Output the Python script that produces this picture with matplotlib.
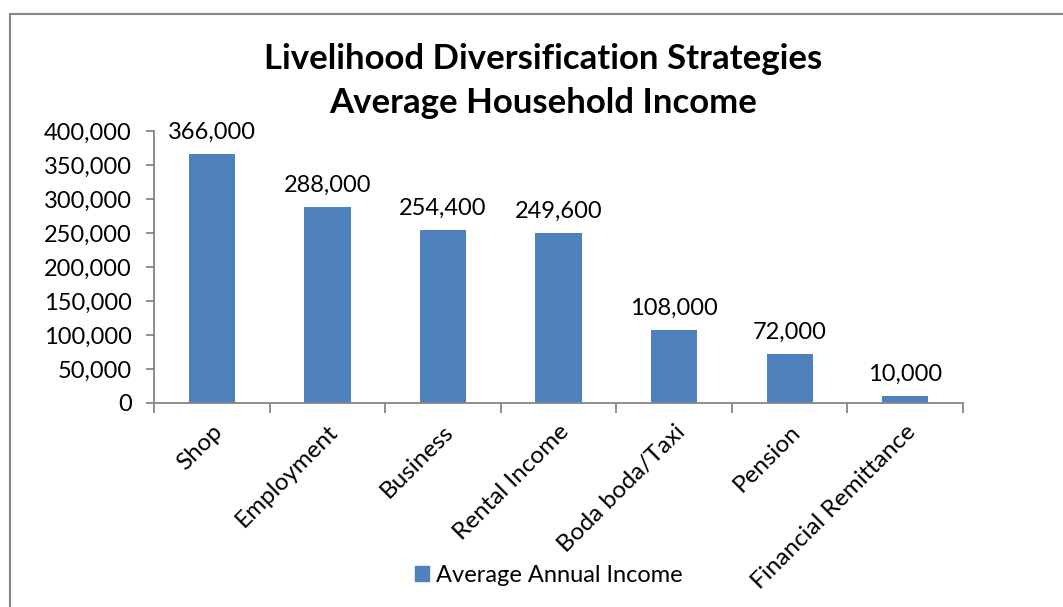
import matplotlib.pyplot as plt
from matplotlib.lines import Line2D
from matplotlib.patches import Patch
from matplotlib.ticker import FuncFormatter

plt.rcParams['font.family'] = ['Lato', 'DejaVu Sans']

categories = ['Shop', 'Employment', 'Business', 'Rental Income',
              'Boda boda/Taxi', 'Pension', 'Financial Remittance']
income = [366000, 288000, 254400, 249600, 108000, 72000, 10000]
yticks = [0, 50000, 100000, 150000, 200000, 250000, 300000, 350000, 400000]

bar_color = '#4F81BD'
axis_gray = '#868686'

fig = plt.figure(figsize=(10.63, 6.07), dpi=100)
ax = fig.add_axes([0.1449, 0.3361, 0.7611, 0.4481])

x = range(len(categories))
ax.bar(x, income, width=0.4, color=bar_color, zorder=2)
for xi, v in zip(x, income):
    ax.annotate(f'{v:,}', (xi, v), xytext=(0, 8), textcoords='offset points',
                ha='center', va='bottom', fontsize=17)

ax.set_xlim(-0.5, len(categories) - 0.5)
ax.set_ylim(0, 400000)
ax.set_yticks(yticks)
ax.yaxis.set_major_formatter(FuncFormatter(lambda v, p: f'{int(v):,}'))
ax.tick_params(axis='y', labelsize=17, length=6, color=axis_gray, width=1.3, pad=10)

# category boundaries carry the tick marks, labels sit at bar centres
ax.set_xticks([i - 0.5 for i in range(len(categories) + 1)])
ax.set_xticklabels([])
ax.set_xticks(list(x), minor=True)
ax.set_xticklabels(categories, minor=True, rotation=45, ha='right',
                   rotation_mode='anchor', fontsize=17.5)
ax.tick_params(axis='x', which='major', length=7, color=axis_gray, width=1.3)
ax.tick_params(axis='x', which='minor', length=0, pad=13)

for s in ['top', 'right']:
    ax.spines[s].set_visible(False)
for s in ['left', 'bottom']:
    ax.spines[s].set_color(axis_gray)
    ax.spines[s].set_linewidth(1.3)

fig.text(0.511, 0.866, 'Livelihood Diversification Strategies\nAverage Household Income',
         ha='center', va='center', fontsize=25, fontweight='bold', linespacing=1.45)

fig.legend(handles=[Patch(color=bar_color, label='Average Annual Income')],
           loc='center', bbox_to_anchor=(0.516, 0.052), frameon=False,
           fontsize=17, handlelength=0.6, handleheight=0.6, handletextpad=0.3)

# chart area outline
fig.add_artist(Line2D([0.0094, 0.0094], [0, 0.977], color=axis_gray, lw=1.5))
fig.add_artist(Line2D([0.0094, 1.0], [0.977, 0.977], color=axis_gray, lw=1.5))

fig.savefig('out.png', dpi=100)
